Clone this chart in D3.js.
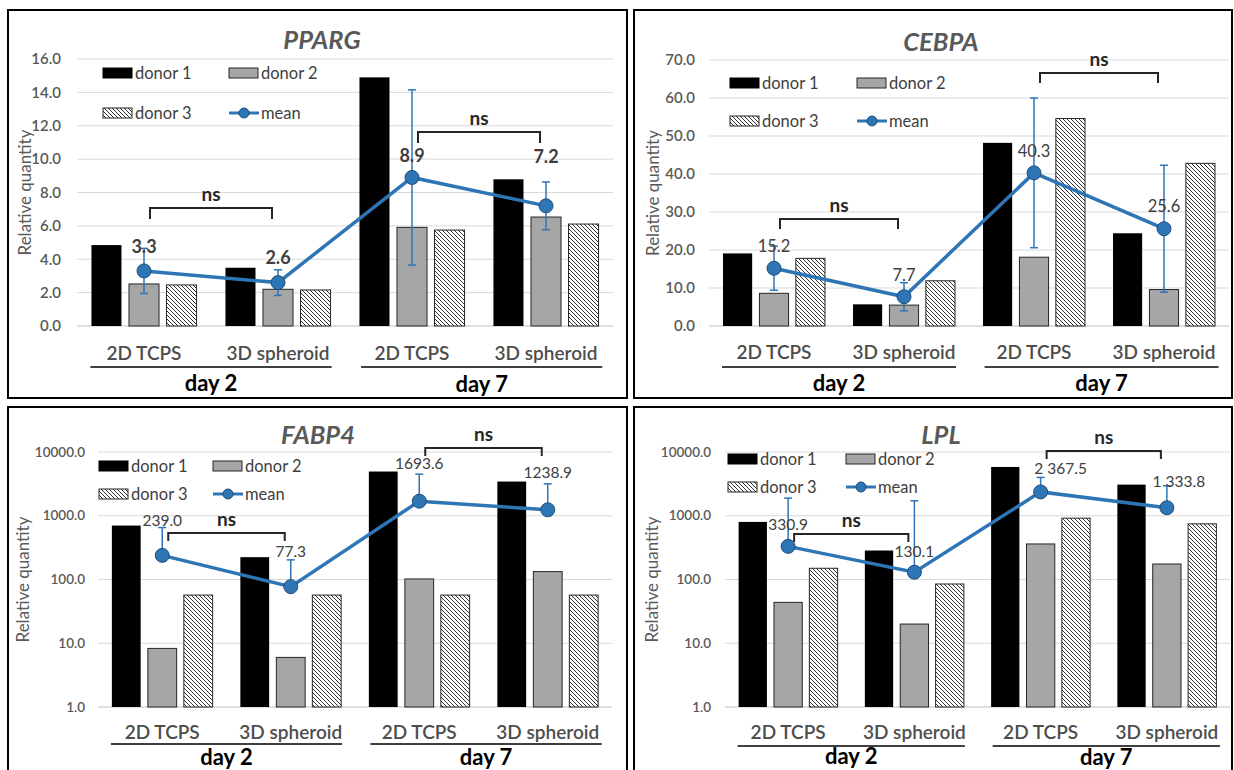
<!DOCTYPE html>
<html>
<head>
<meta charset="utf-8">
<script src="https://cdn.jsdelivr.net/npm/d3@7"></script>
<style>
  body { margin: 0; background: #fff; }
  svg { display: block; font-family: Lato, "Open Sans", sans-serif; }
</style>
</head>
<body>
<script>
// categories
var groupNames = ["2D TCPS", "3D spheroid", "2D TCPS", "3D spheroid"];
var dayNames = ["day 2", "day 7"];
var seriesNames = ["donor 1", "donor 2", "donor 3"];

// PPARG
var ppargDonor1 = [4.85, 3.49, 14.9, 8.79];
var ppargDonor2 = [2.52, 2.20, 5.91, 6.53];
var ppargDonor3 = [2.46, 2.16, 5.75, 6.11];
var ppargMean = [3.3, 2.6, 8.9, 7.2];
var ppargSd = [1.35, 0.77, 5.25, 1.43];
var ppargTicks = [0, 2, 4, 6, 8, 10, 12, 14, 16];

// CEBPA
var cebpaDonor1 = [19.1, 5.7, 48.2, 24.4];
var cebpaDonor2 = [8.6, 5.5, 18.1, 9.6];
var cebpaDonor3 = [17.8, 11.9, 54.6, 42.8];
var cebpaMean = [15.2, 7.7, 40.3, 25.6];
var cebpaSd = [5.8, 3.7, 19.7, 16.7];
var cebpaTicks = [0, 10, 20, 30, 40, 50, 60, 70];

// FABP4
var fabp4Donor1 = [702, 224, 4940, 3440];
var fabp4Donor2 = [8.3, 6.0, 102, 133];
var fabp4Donor3 = [57, 57, 57, 57];
var fabp4Mean = [239.0, 77.3, 1693.6, 1238.9];
var fabp4Sd = [414, 126, 2800, 1926];

// LPL
var lplDonor1 = [800, 285, 5825, 3080];
var lplDonor2 = [43.8, 20, 361, 175];
var lplDonor3 = [150, 85, 917, 746];
var lplMean = [330.9, 130.1, 2367.5, 1333.8];
var lplSd = [1561, 1585, 1622, 1618];

var logTicks = [1, 10, 100, 1000, 10000];

var spaceFmt = d3.formatLocale({ decimal: ".", thousands: " ", grouping: [3], currency: ["", ""] }).format(",.1f");

var panels = [
  { title: "PPARG", donors: [ppargDonor1, ppargDonor2, ppargDonor3], mean: ppargMean, sd: ppargSd,
    ticks: ppargTicks, log: false, fmt: d3.format(".1f"), labelWeight: 700, labelSize: 18, tickSize: 15,
    frame: [8, 10, 627, 398], x0: 77, x1: 613, yTop: 59, yBot: 326,
    titleXY: [322, 40], tickX: 61, yTitleX: 25, legX: [103, 229], legY: [73, 113],
    labelDx: [0, 0, 0, 0], labelDy: [-24, -25, -22, -49],
    brackets: [208, 132], legLen: 11, catY: 353, lineY: 367, dayY: [383, 384] },
  { title: "CEBPA", donors: [cebpaDonor1, cebpaDonor2, cebpaDonor3], mean: cebpaMean, sd: cebpaSd,
    ticks: cebpaTicks, log: false, fmt: d3.format(".1f"), labelWeight: 400, labelSize: 16.5, tickSize: 15,
    frame: [634, 10, 1232, 398], x0: 709, x1: 1229, yTop: 60, yBot: 326,
    titleXY: [941, 42], tickX: 695, yTitleX: 653, legX: [730, 857], legY: [83, 121],
    labelDx: [0, 0, 0, 0], labelDy: [-22, -22, -22, -22],
    brackets: [219, 73], legLen: 10, catY: 352, lineY: 367, dayY: [383, 383] },
  { title: "FABP4", donors: [fabp4Donor1, fabp4Donor2, fabp4Donor3], mean: fabp4Mean, sd: fabp4Sd,
    ticks: logTicks, log: true, fmt: d3.format(".1f"), labelWeight: 400, labelSize: 15.5, tickSize: 13.5,
    frame: [8, 407, 627, 780], x0: 98, x1: 612, yTop: 452, yBot: 707,
    titleXY: [318, 435], tickX: 85, yTitleX: 23, legX: [99, 213], legY: [466, 494],
    labelDx: [0, 0, 0, 0], labelDy: [-35, -35, -38, -37],
    brackets: [533, 448], legLen: 8, catY: 732, lineY: 744, dayY: [757, 757] },
  { title: "LPL", donors: [lplDonor1, lplDonor2, lplDonor3], mean: lplMean, sd: lplSd,
    ticks: logTicks, log: true, fmt: spaceFmt, labelWeight: 400, labelSize: 15.5, tickSize: 13.5,
    frame: [634, 407, 1232, 780], x0: 725, x1: 1230, yTop: 452, yBot: 707,
    titleXY: [941, 435], tickX: 711, yTitleX: 652, legX: [728, 846], legY: [459, 487],
    labelDx: [0, 0, 20, 12], labelDy: [-22, -21, -23, -26],
    brackets: [534, 451], legLen: 8, catY: 732, lineY: 746, dayY: [756, 757] }
];

var blue = "#2e75b6", darkBlue = "#1f4e79", grey = "#595959", text = "#404040";

var svg = d3.select("body").append("svg")
  .attr("width", 1234)
  .attr("height", 770);

// hatch pattern for donor 3
svg.append("defs").append("pattern")
  .attr("id", "hatch")
  .attr("patternUnits", "userSpaceOnUse")
  .attr("width", 4).attr("height", 4)
  .call(function (p) {
    p.append("rect").attr("width", 4).attr("height", 4).attr("fill", "#fff");
    p.append("path").attr("d", "M0,0 L4,4 M-1,3 L1,5 M3,-1 L5,1")
      .attr("stroke", "#333").attr("stroke-width", 1);
  });

var barFill = ["#000", "#a6a6a6", "url(#hatch)"];
var barStroke = ["none", "#262626", "#262626"];

panels.forEach(drawPanel);

function drawPanel(p) {
  var g = svg.append("g");

  g.append("rect")
    .attr("x", p.frame[0]).attr("y", p.frame[1])
    .attr("width", p.frame[2] - p.frame[0]).attr("height", p.frame[3] - p.frame[1])
    .attr("fill", "none").attr("stroke", "#000").attr("stroke-width", 2);

  var x = d3.scaleBand().domain(d3.range(groupNames.length)).range([p.x0, p.x1]);
  var xs = d3.scaleBand().domain(d3.range(seriesNames.length)).range([0, x.bandwidth()])
    .paddingInner(0.2).paddingOuter(0.385);
  var y = p.log
    ? d3.scaleLog().domain([1, 10000]).range([p.yBot, p.yTop])
    : d3.scaleLinear().domain([0, d3.max(p.ticks)]).range([p.yBot, p.yTop]);
  var base = p.log ? 1 : 0;
  var cx = function (i) { return x(i) + x.bandwidth() / 2; };

  // gridlines
  g.selectAll(".grid").data(p.ticks).enter().append("line")
    .attr("x1", p.x0).attr("x2", p.x1)
    .attr("y1", function (d) { return y(d); }).attr("y2", function (d) { return y(d); })
    .attr("stroke", function (d) { return d === base ? "#bfbfbf" : "#d9d9d9"; })
    .attr("stroke-width", 1);

  // tick labels
  g.selectAll(".tick").data(p.ticks).enter().append("text")
    .attr("x", p.tickX).attr("y", function (d) { return y(d); })
    .attr("dy", "0.35em").attr("text-anchor", "end")
    .attr("fill", grey).style("font-size", p.tickSize + "px").style("font-weight", 600)
    .text(function (d) { return d3.format(".1f")(d); });

  // y axis title
  g.append("text")
    .attr("transform", "translate(" + p.yTitleX + "," + ((p.yTop + p.yBot) / 2) + ") rotate(-90)")
    .attr("text-anchor", "middle").attr("dy", "0.35em")
    .attr("fill", grey).style("font-size", "17px")
    .text("Relative quantity");

  // title
  g.append("text")
    .attr("x", p.titleXY[0]).attr("y", p.titleXY[1]).attr("dy", "0.35em")
    .attr("text-anchor", "middle").attr("fill", grey)
    .style("font-size", "25.5px").style("font-weight", 700).style("font-style", "italic")
    .text(p.title);

  // bars
  p.donors.forEach(function (vals, s) {
    g.selectAll(".bar" + s).data(vals).enter().append("rect")
      .attr("x", function (d, i) { return x(i) + xs(s); })
      .attr("width", xs.bandwidth())
      .attr("y", function (d) { return y(d); })
      .attr("height", function (d) { return y(base) - y(d); })
      .attr("fill", barFill[s]).attr("stroke", barStroke[s]).attr("stroke-width", 1);
  });

  // mean line
  var line = d3.line().x(function (d, i) { return cx(i); }).y(function (d) { return y(d); });
  g.append("path").datum(p.mean)
    .attr("d", line).attr("fill", "none").attr("stroke", blue).attr("stroke-width", 3.5);

  // error bars
  p.mean.forEach(function (m, i) {
    var hi = m + p.sd[i];
    var lo = p.log ? m : m - p.sd[i];
    var ex = cx(i);
    g.append("line").attr("x1", ex).attr("x2", ex).attr("y1", y(lo)).attr("y2", y(hi))
      .attr("stroke", blue).attr("stroke-width", 1.5);
    g.append("line").attr("x1", ex - 4).attr("x2", ex + 4).attr("y1", y(hi)).attr("y2", y(hi))
      .attr("stroke", blue).attr("stroke-width", 1.5);
    if (!p.log) {
      g.append("line").attr("x1", ex - 4).attr("x2", ex + 4).attr("y1", y(lo)).attr("y2", y(lo))
        .attr("stroke", blue).attr("stroke-width", 1.5);
    }
  });

  // markers
  g.selectAll(".dot").data(p.mean).enter().append("circle")
    .attr("cx", function (d, i) { return cx(i); })
    .attr("cy", function (d) { return y(d); })
    .attr("r", 7).attr("fill", blue).attr("stroke", darkBlue).attr("stroke-width", 1);

  // mean labels
  g.selectAll(".lbl").data(p.mean).enter().append("text")
    .attr("x", function (d, i) { return cx(i) + p.labelDx[i]; })
    .attr("y", function (d, i) { return y(d) + p.labelDy[i]; })
    .attr("dy", "0.35em").attr("text-anchor", "middle")
    .attr("fill", text).style("font-size", p.labelSize + "px").style("font-weight", p.labelWeight)
    .text(function (d) { return p.fmt(d); });

  // "ns" brackets between 2D TCPS and 3D spheroid of each day
  p.brackets.forEach(function (by, k) {
    var xa = cx(2 * k) + 6, xb = cx(2 * k + 1) - 6;
    g.append("path")
      .attr("d", "M" + xa + "," + (by + p.legLen) + "V" + by + "H" + xb + "V" + (by + p.legLen))
      .attr("fill", "none").attr("stroke", "#262626").attr("stroke-width", 2);
    g.append("text")
      .attr("x", (xa + xb) / 2).attr("y", by - 14).attr("dy", "0.35em")
      .attr("text-anchor", "middle").attr("fill", "#262626")
      .style("font-size", "19px").style("font-weight", 700)
      .text("ns");
  });

  // legend
  var legItems = seriesNames.concat(["mean"]);
  legItems.forEach(function (name, k) {
    var lx = p.legX[k % 2], ly = p.legY[Math.floor(k / 2)];
    if (k < 3) {
      g.append("rect").attr("x", lx).attr("y", ly - 5).attr("width", 29).attr("height", 10)
        .attr("fill", barFill[k]).attr("stroke", k === 0 ? "#000" : "#262626").attr("stroke-width", 1);
    } else {
      g.append("line").attr("x1", lx).attr("x2", lx + 30).attr("y1", ly).attr("y2", ly)
        .attr("stroke", blue).attr("stroke-width", 3);
      g.append("circle").attr("cx", lx + 15).attr("cy", ly).attr("r", 5)
        .attr("fill", blue).attr("stroke", darkBlue);
    }
    g.append("text").attr("x", lx + 32).attr("y", ly).attr("dy", "0.35em")
      .attr("fill", text).style("font-size", "16.5px")
      .text(name);
  });

  // category labels
  g.selectAll(".cat").data(groupNames).enter().append("text")
    .attr("x", function (d, i) { return cx(i); })
    .attr("y", p.catY).attr("dy", "0.35em").attr("text-anchor", "middle")
    .attr("fill", "#4d4d4d").style("font-size", "19px").style("font-weight", 600)
    .text(function (d) { return d; });

  // day grouping lines and labels
  var bw = x.bandwidth();
  var spans = [[0.1, 1.9], [2.12, 3.92]];
  dayNames.forEach(function (name, k) {
    var a = p.x0 + spans[k][0] * bw, b = p.x0 + spans[k][1] * bw;
    g.append("line").attr("x1", a).attr("x2", b).attr("y1", p.lineY).attr("y2", p.lineY)
      .attr("stroke", "#000").attr("stroke-width", 1.5);
    g.append("text").attr("x", (a + b) / 2).attr("y", p.dayY[k]).attr("dy", "0.35em")
      .attr("text-anchor", "middle").attr("fill", "#000")
      .style("font-size", "22px").style("font-weight", 700)
      .text(name);
  });
}
</script>
</body>
</html>
